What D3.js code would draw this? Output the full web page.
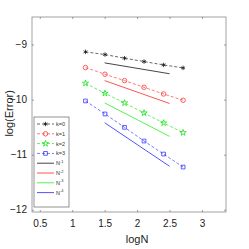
<!DOCTYPE html>
<html>
<head>
<meta charset="utf-8">
<script src="https://cdn.jsdelivr.net/npm/d3@7"></script>
<style>
  body { margin: 0; background: #fff; }
  text { font-family: "Liberation Sans", Arial, sans-serif; }
</style>
</head>
<body>
<div id="vis"></div>
<script>
const FRAME_WIDTH = 249;
const FRAME_HEIGHT = 249;
const MARGINS = {left: 32, right: 23, top: 17, bottom: 37};

// data
const logN = [1.204, 1.505, 1.806, 2.107, 2.408, 2.709];
const errK0 = [-9.133, -9.182, -9.248, -9.309, -9.370, -9.424];
const errK1 = [-9.418, -9.539, -9.655, -9.776, -9.897, -10.012];
const errK2 = [-9.703, -9.885, -10.06, -10.242, -10.424, -10.60];
const errK3 = [-10.024, -10.26, -10.503, -10.752, -10.988, -11.224];

const refX = [1.5, 2.5];
const refN1 = [-9.333, -9.53];
const refN2 = [-9.655, -10.07];
const refN3 = [-10.06, -10.667];
const refN4 = [-10.42, -11.21];

const xTicks = [0.5, 1, 1.5, 2, 2.5, 3];
const yTicks = [-12, -11, -10, -9];
const seriesNames = ["k=0", "k=1", "k=2", "k=3"];
const refNames = ["1", "2", "3", "4"];

const colors = ["#000000", "#ff2020", "#00e000", "#2020ff"];
const refColors = ["#303030", "#ff4040", "#40f040", "#4040ff"];

const FRAME = d3.select("#vis")
  .append("svg")
    .attr("width", FRAME_WIDTH)
    .attr("height", FRAME_HEIGHT);

const W = FRAME_WIDTH - MARGINS.left - MARGINS.right;
const H = FRAME_HEIGHT - MARGINS.top - MARGINS.bottom;

const x = d3.scaleLinear().domain([0.38, 3.37]).range([MARGINS.left, MARGINS.left + W]);
const y = d3.scaleLinear().domain([-12.04, -8.5]).range([MARGINS.top + H, MARGINS.top]);

// box
FRAME.append("rect")
  .attr("x", MARGINS.left).attr("y", MARGINS.top)
  .attr("width", W).attr("height", H)
  .attr("fill", "none").attr("stroke", "#8a8a8a").attr("stroke-width", 0.8);

// axes, ticks pointing inward
const xAxis = FRAME.append("g")
  .attr("transform", `translate(0,${MARGINS.top + H})`)
  .call(d3.axisBottom(x).tickValues(xTicks).tickSize(-2).tickPadding(8).tickFormat(d3.format("")));
const xTop = FRAME.append("g")
  .attr("transform", `translate(0,${MARGINS.top})`)
  .call(d3.axisTop(x).tickValues(xTicks).tickSize(-2).tickFormat(""));
const yAxis = FRAME.append("g")
  .attr("transform", `translate(${MARGINS.left},0)`)
  .call(d3.axisLeft(y).tickValues(yTicks).tickSize(-2).tickPadding(5).tickFormat(d3.format("")));
const yRight = FRAME.append("g")
  .attr("transform", `translate(${MARGINS.left + W},0)`)
  .call(d3.axisRight(y).tickValues(yTicks).tickSize(-2).tickFormat(""));

[xAxis, xTop, yAxis, yRight].forEach(g => {
  g.select(".domain").remove();
  g.selectAll("line").attr("stroke", "#777").attr("stroke-width", 0.7);
  g.selectAll("text").attr("fill", "#222").attr("font-size", 10);
});

// axis labels
FRAME.append("text")
  .attr("x", x(2)).attr("y", 243)
  .attr("text-anchor", "middle").attr("font-size", 11).attr("fill", "#222")
  .text("logN");
FRAME.append("text")
  .attr("transform", `translate(13,${y(-10.25)}) rotate(-90)`)
  .attr("text-anchor", "middle").attr("font-size", 11).attr("fill", "#222")
  .text("log(Error)");

const series = [errK0, errK1, errK2, errK3];
const refs = [refN1, refN2, refN3, refN4];
const symbols = [d3.symbolAsterisk, d3.symbolCircle, d3.symbolStar, d3.symbolSquare];
const symSizes = [14, 16, 12, 14];

const line = d3.line().x(d => x(d[0])).y(d => y(d[1]));

// reference slopes
refs.forEach((r, i) => {
  FRAME.append("path")
    .datum(refX.map((v, j) => [v, r[j]]))
    .attr("d", line)
    .attr("fill", "none").attr("stroke", refColors[i]).attr("stroke-width", 0.9);
});

// error series
series.forEach((s, i) => {
  FRAME.append("path")
    .datum(logN.map((v, j) => [v, s[j]]))
    .attr("d", line)
    .attr("fill", "none").attr("stroke", colors[i])
    .attr("stroke-width", 0.6).attr("stroke-dasharray", "3,2");
  FRAME.selectAll(".m" + i)
    .data(logN.map((v, j) => [v, s[j]]))
    .enter().append("path")
      .attr("transform", d => `translate(${x(d[0])},${y(d[1])})`)
      .attr("d", d3.symbol(symbols[i], symSizes[i]))
      .attr("fill", i === 0 ? colors[i] : "none")
      .attr("stroke", colors[i]).attr("stroke-width", 0.7);
});

// legend
const LEG = {x: 34, y: 117, w: 35, h: 90, step: 9.8};
FRAME.append("rect")
  .attr("x", LEG.x).attr("y", LEG.y).attr("width", LEG.w).attr("height", LEG.h)
  .attr("fill", "#fff").attr("stroke", "#666").attr("stroke-width", 0.7);

seriesNames.forEach((name, i) => {
  const ly = LEG.y + 7 + i * LEG.step;
  FRAME.append("line")
    .attr("x1", LEG.x + 3).attr("x2", LEG.x + 20).attr("y1", ly).attr("y2", ly)
    .attr("stroke", colors[i]).attr("stroke-width", 0.6).attr("stroke-dasharray", "3,2");
  FRAME.append("path")
    .attr("transform", `translate(${LEG.x + 11.5},${ly})`)
    .attr("d", d3.symbol(symbols[i], symSizes[i]))
    .attr("fill", i === 0 ? colors[i] : "none")
    .attr("stroke", colors[i]).attr("stroke-width", 0.7);
  FRAME.append("text")
    .attr("x", LEG.x + 22).attr("y", ly + 2)
    .attr("font-size", 5.5).attr("fill", "#333")
    .text(name);
});

refNames.forEach((p, i) => {
  const ly = LEG.y + 7 + (i + 4) * LEG.step;
  FRAME.append("line")
    .attr("x1", LEG.x + 3).attr("x2", LEG.x + 20).attr("y1", ly).attr("y2", ly)
    .attr("stroke", refColors[i]).attr("stroke-width", 0.9);
  const t = FRAME.append("text")
    .attr("x", LEG.x + 22).attr("y", ly + 2)
    .attr("font-size", 5.5).attr("fill", "#333")
    .text("N");
  t.append("tspan").attr("dy", -2.5).attr("font-size", 4).text("-" + p);
});
</script>
</body>
</html>
